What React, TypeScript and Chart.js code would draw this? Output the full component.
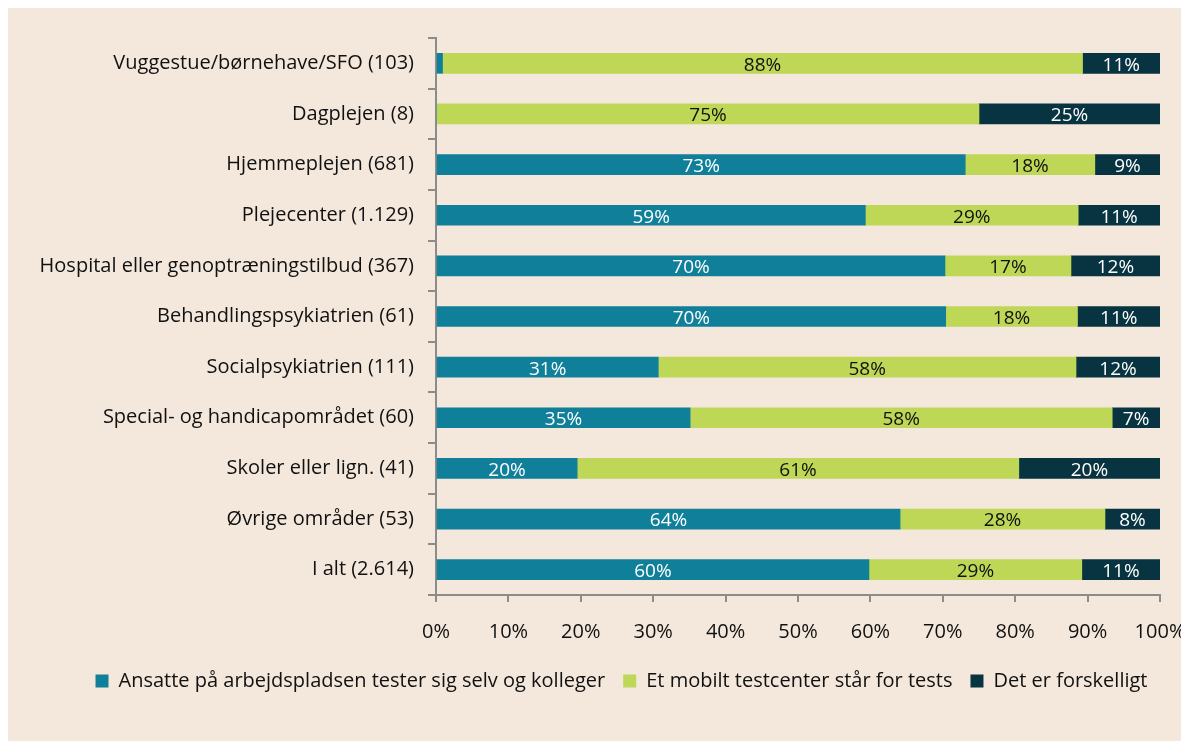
import React, { useEffect, useRef } from "react";
import { Chart, registerables } from "chart.js";

Chart.register(...registerables);

const categories = [
  "Vuggestue/børnehave/SFO (103)",
  "Dagplejen (8)",
  "Hjemmeplejen (681)",
  "Plejecenter (1.129)",
  "Hospital eller genoptræningstilbud (367)",
  "Behandlingspsykiatrien (61)",
  "Socialpsykiatrien (111)",
  "Special- og handicapområdet (60)",
  "Skoler eller lign. (41)",
  "Øvrige områder (53)",
  "I alt (2.614)",
];

const seriesNames = [
  "Ansatte på arbejdspladsen tester sig selv og kolleger",
  "Et mobilt testcenter står for tests",
  "Det er forskelligt",
];

const selfTest = [0.9, 0, 73.1, 59.3, 70.3, 70.4, 30.7, 35.1, 19.5, 64.1, 59.8];
const mobileCenter = [88.4, 75, 17.9, 29.4, 17.4, 18.2, 57.7, 58.3, 61.0, 28.3, 29.4];
const varies = [10.7, 25, 9.0, 11.3, 12.3, 11.4, 11.6, 6.6, 19.5, 7.6, 10.8];

const xTicks = [0, 10, 20, 30, 40, 50, 60, 70, 80, 90, 100];

const colors = ["#107f9a", "#bed756", "#073440"];
const labelColors = ["#ffffff", "#111111", "#ffffff"];
const FONT = "'Open Sans', 'Noto Sans', sans-serif";

const barLabelPlugin = {
  id: "barLabels",
  afterLayout(chart: any) {
    if (chart.legend) {
      chart.legend.left += 23;
      chart.legend.right += 23;
    }
  },
  afterDatasetsDraw(chart: any) {
    const ctx = chart.ctx;
    ctx.save();
    ctx.font = `19px ${FONT}`;
    ctx.textAlign = "center";
    ctx.textBaseline = "middle";
    chart.data.datasets.forEach((ds: any, di: number) => {
      const meta = chart.getDatasetMeta(di);
      meta.data.forEach((bar: any, i: number) => {
        const v = ds.data[i];
        if (v < 3) return;
        const x = (bar.x + bar.base) / 2;
        ctx.fillStyle = labelColors[di];
        ctx.fillText(Math.round(v) + "%", x, bar.y + 2);
      });
    });
    ctx.restore();
  },
};

export default function App() {
  const ref = useRef<HTMLCanvasElement>(null);
  useEffect(() => {
    if (!ref.current) return;
    const data = [selfTest, mobileCenter, varies];
    const chart = new Chart(ref.current, {
      type: "bar",
      data: {
        labels: categories,
        datasets: seriesNames.map((n, i) => ({
          label: n,
          data: data[i],
          backgroundColor: colors[i],
          borderWidth: 0,
          barThickness: 20,
        })),
      },
      options: {
        indexAxis: "y",
        animation: false,
        responsive: false,
        layout: { padding: { top: 30, right: 0, bottom: 40, left: 0 } },
        scales: {
          x: {
            stacked: true,
            min: 0,
            max: 100,
            afterBuildTicks: (axis: any) => {
              axis.ticks = xTicks.map((v) => ({ value: v }));
            },
            afterFit: (axis: any) => {
              axis.height = 58;
              axis.paddingRight = 29;
            },
            ticks: {
              callback: (v: any) => v + "%",
              color: "#111",
              font: { family: FONT, size: 20 },
              padding: 18,
              maxRotation: 0,
            },
            grid: { display: true, drawOnChartArea: false, tickLength: 7, color: "#8c8c8c", lineWidth: 2 },
            border: { color: "#8c8c8c", width: 2 },
          },
          y: {
            stacked: true,
            afterFit: (axis: any) => {
              axis.width = 428;
            },
            ticks: {
              color: "#111",
              font: { family: FONT, size: 20 },
              padding: 14,
            },
            grid: { display: true, drawOnChartArea: false, offset: true, tickLength: 8, color: "#8c8c8c", lineWidth: 2 },
            border: { color: "#8c8c8c", width: 2 },
          },
        },
        plugins: {
          legend: {
            position: "bottom",
            labels: {
              color: "#111",
              font: { family: FONT, size: 20 },
              boxWidth: 13,
              boxHeight: 13,
              padding: 18,
            },
          },
          tooltip: { enabled: false },
        },
      },
      plugins: [barLabelPlugin],
    });
    return () => chart.destroy();
  }, []);
  return (
    <div style={{ width: 1181, height: 733, background: "#f4e8dc" }}>
      <canvas ref={ref} width={1181} height={733} style={{ display: "block" }} />
    </div>
  );
}
